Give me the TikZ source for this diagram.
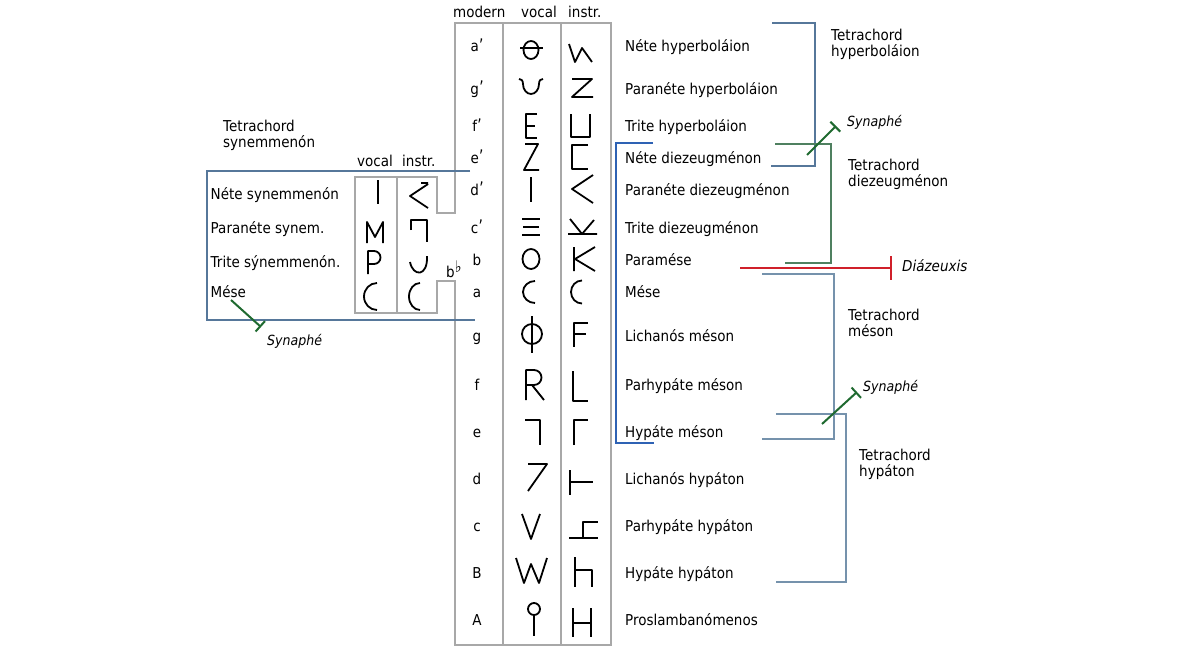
\documentclass[tikz,border=0pt]{standalone}
\usepackage{fontspec}
\usepackage{graphicx}
\setmainfont{DejaVu Sans}[FakeStretch=0.9]
\usetikzlibrary{arrows.meta}
\definecolor{boxgray}{HTML}{A8A8A8}
\definecolor{slate}{HTML}{56779A}
\definecolor{slatelt}{HTML}{7592AC}
\definecolor{grgray}{HTML}{4F8060}
\definecolor{bblue}{HTML}{2E62B4}
\definecolor{dgreen}{HTML}{1F6A30}
\definecolor{dred}{HTML}{D0202A}
\newcommand{\pr}{\kern0.3pt\raisebox{-0.5pt}{\scalebox{1}[1.25]{’}}}
\tikzset{
  lbl/.style={anchor=base west, font=\fontsize{15}{16}\selectfont, inner sep=0pt},
  mod/.style={anchor=base, font=\fontsize{15}{16}\selectfont, inner sep=0pt},
  itl/.style={anchor=base west, font=\fontsize{14}{16}\selectfont\itshape, inner sep=0pt},
  itlb/.style={anchor=base west, font=\fontsize{15}{16}\selectfont\itshape, inner sep=0pt},
  sym/.style={line width=1.8pt, line join=round, black},
  frame/.style={draw=boxgray, line width=1.5pt},
  brk/.style={line width=1.4pt},
  synline/.style={draw=dgreen, line width=2pt, -{Bar[width=14pt]}},
}
\begin{document}
\begin{tikzpicture}[x=1pt,y=-1pt]
\useasboundingbox (0,0) rectangle (1200,664);
\fill[white] (0,0) rectangle (1200,664);

% ---------- frames ----------
\draw[frame] (455,213) -- (455,23) -- (611,23) -- (611,645) -- (455,645) -- (455,281)
  -- (437,281) -- (437,313) -- (355,313) -- (355,177) -- (437,177) -- (437,213) -- cycle;
\draw[frame] (503,23) -- (503,645);
\draw[frame] (561,23) -- (561,645);
\draw[frame] (397,177) -- (397,313);

% blue-gray box of the synemmenon tetrachord
\draw[brk, slate] (470,171) -- (207,171) -- (207,320) -- (475,320);

% ---------- headers ----------
\node[lbl] (hmod) at (453,17.5) {modern};
\node[lbl] (hvoc) at (521,17.5) {vocal};
\node[lbl] (hins) at (568,17.5) {instr.};
\node[lbl] (hvoc2) at (357,166) {vocal};
\node[lbl] (hins2) at (402,166) {instr.};

% ---------- modern names ----------
\node[mod] (m1) at (477,51.7) {a\pr};
\node[mod] (m2) at (477,94) {g\pr};
\node[mod] (m3) at (477,131.7) {f\pr};
\node[mod] (m4) at (477,163) {e\pr};
\node[mod] (m5) at (477,195) {d\pr};
\node[mod] (m6) at (477,233) {c\pr};
\node[mod] (m7) at (477,265) {b};
\node[mod] (m8) at (477,297.7) {a};
\node[mod] (m9) at (477,341.7) {g};
\node[mod] (m10) at (477,390.7) {f};
\node[mod] (m11) at (477,437.7) {e};
\node[mod] (m12) at (477,484) {d};
\node[mod] (m13) at (477,531.7) {c};
\node[mod] (m14) at (477,578) {B};
\node[mod] (m15) at (477,625) {A};
\node[lbl] (bflat) at (446,277.5) {b\raisebox{5pt}{\fontsize{16}{16}\selectfont ♭}};

% ---------- right labels ----------
\node[lbl] (r1) at (625,51.7) {Néte hyperboláion};
\node[lbl] (r2) at (625,94) {Paranéte hyperboláion};
\node[lbl] (r3) at (625,131.7) {Trite hyperboláion};
\node[lbl] (r4) at (625,163) {Néte diezeugménon};
\node[lbl] (r5) at (625,195) {Paranéte diezeugménon};
\node[lbl] (r6) at (625,233) {Trite diezeugménon};
\node[lbl] (r7) at (625,265) {Paramése};
\node[lbl] (r8) at (625,297.7) {Mése};
\node[lbl] (r9) at (625,341.7) {Lichanós méson};
\node[lbl] (r10) at (625,390.7) {Parhypáte méson};
\node[lbl] (r11) at (625,437.7) {Hypáte méson};
\node[lbl] (r12) at (625,484) {Lichanós hypáton};
\node[lbl] (r13) at (625,531.7) {Parhypáte hypáton};
\node[lbl] (r14) at (625,578) {Hypáte hypáton};
\node[lbl] (r15) at (625,625) {Proslambanómenos};

% ---------- left labels ----------
\node[lbl] (l1) at (210.5,199.3) {Néte synemmenón};
\node[lbl] (l2) at (210.5,233.3) {Paranéte synem.};
\node[lbl] (l3) at (210.5,267.3) {Trite sýnemmenón.};
\node[lbl] (l4) at (210.5,297.7) {Mése};
\node[lbl] (ts1) at (223,131.7) {Tetrachord};
\node[lbl] (ts2) at (223,147.7) {synemmenón};

% ---------- tetrachord labels ----------
\node[lbl] (th1) at (831,40.7) {Tetrachord};
\node[lbl] (th2) at (831,56.7) {hyperboláion};
\node[lbl] (td1) at (848,170) {Tetrachord};
\node[lbl] (td2) at (848,186) {diezeugménon};
\node[lbl] (tm1) at (848,320) {Tetrachord};
\node[lbl] (tm2) at (848,336) {méson};
\node[lbl] (tp1) at (859,460) {Tetrachord};
\node[lbl] (tp2) at (859,476) {hypáton};
\node[itl] (syn1) at (847,126) {Synaphé};
\node[itlb] (dia) at (902,271.7) {Diázeuxis};
\node[itl] (syn2) at (863,391.7) {Synaphé};
\node[itl] (syn3) at (267,345) {Synaphé};

% ---------- brackets ----------
\draw[brk, slate] (772,23) -- (815,23) -- (815,166) -- (771,166);
\draw[brk, grgray] (775,144) -- (831,144) -- (831,263) -- (785,263);
\draw[brk, slatelt] (762,274) -- (834,274) -- (834,439) -- (762,439);
\draw[brk, slatelt] (776,414) -- (846,414) -- (846,582) -- (776,582);
\draw[line width=1.6pt, bblue] (653,143) -- (616,143) -- (616,443) -- (654,443);

% synaphe / diazeuxis marks
\coordinate (sa) at (807,155); \coordinate (sb) at (836,126);
\draw[synline] (sa) -- (sb);
\coordinate (sc) at (822,424); \coordinate (sd) at (857,392);
\draw[synline] (sc) -- (sd);
\coordinate (se) at (231,300); \coordinate (sf) at (261,327);
\draw[synline] (se) -- (sf);
\coordinate (da) at (740,268); \coordinate (db) at (892,268);
\draw[draw=dred, line width=2.2pt, -{Bar[width=24pt]}] (da) -- (db);

% ---------- vocal signs (main) ----------
\draw[sym] (531,50) ellipse [x radius=7.5, y radius=9];
\draw[sym] (520,48) -- (543,48);
\draw[sym] (519,79) .. controls (521,79) and (523,80) .. (523,84) arc[start angle=180, end angle=0, x radius=8, y radius=10] .. controls (539,80) and (541,79) .. (543,79);
\draw[sym] (537,114) -- (526,114) -- (526,138) -- (537,138) (526,126) -- (535,126);
\draw[sym] (525,144) -- (538,144) -- (524,170) -- (539,170);
\draw[sym] (531,177) -- (531,202);
\draw[sym] (522,219) -- (540,219) (523,227) -- (539,227) (522,235) -- (540,235);
\draw[sym] (531,259) ellipse [x radius=8.5, y radius=10];
\draw[sym] (535,281) arc[start angle=-90, end angle=-270, x radius=12, y radius=11];
\draw[sym] (532,334) ellipse [x radius=10, y radius=10];
\draw[sym] (532,316) -- (532,353);
\draw[sym] (526,400) -- (526,370) -- (534,370) arc[start angle=-90, end angle=90, radius=7.5] -- (526,385);
\draw[sym] (532,385) -- (544,400);
\draw[sym] (525,420) -- (540,420) -- (540,445);
\draw[sym] (528,464) -- (547,464) -- (528,491);
\draw[sym] (522,514) -- (531,539) -- (540,514);
\draw[sym] (516,558) -- (524,583) -- (531,564) -- (539,583) -- (547,558);
\draw[sym] (534,609) circle[radius=6];
\draw[sym] (534,615) -- (534,636);

% ---------- instrumental signs (main) ----------
\draw[sym] (569,44) -- (575,62) -- (582,48) -- (592,62);
\draw[sym] (572,79) -- (592,79) -- (572,97) -- (593,97);
\draw[sym] (571,114) -- (571,137) -- (590,137) -- (590,114);
\draw[sym] (588,145) -- (572,145) -- (572,169) -- (588,169);
\draw[sym] (593,175) -- (572,189) -- (593,203);
\draw[sym] (568,234) -- (597,234) (570,219) -- (582,234) -- (594,220);
\draw[sym] (574,247) -- (574,271) (595,247) -- (575,259) -- (595,271);
\draw[sym] (582,280.5) arc[start angle=-90, end angle=-270, x radius=11, y radius=11.5];
\draw[sym] (588,323) -- (574,323) -- (574,347) (574,334) -- (586,334);
\draw[sym] (573,371) -- (573,401) -- (588,401);
\draw[sym] (574,445) -- (574,420) -- (588,420);
\draw[sym] (570,470) -- (570,495) (570,482) -- (593,482);
\draw[sym] (569,538) -- (598,538) (583,538) -- (583,522) -- (598,522);
\draw[sym] (575,557) -- (575,587) (575,570) -- (592,570) -- (592,587);
\draw[sym] (573,608) -- (573,637) (591,608) -- (591,637) (573,623) -- (591,623);

% ---------- synemmenon signs ----------
\draw[sym] (378,180) -- (378,204);
\draw[sym] (421,183) -- (428,183) (428,184) -- (410,196) -- (428,208);
\draw[sym] (367,243) -- (367,222) -- (375,237) -- (383,222) -- (383,243);
\draw[sym] (411,230) -- (411,220) -- (427,220) -- (427,242);
\draw[sym] (368,274) -- (368,251) -- (374,251) arc[start angle=-90, end angle=90, radius=6.5] -- (368,264);
\draw[sym] (410,262) .. controls (413,277) and (428,277) .. (427,256);
\draw[sym] (377,283) arc[start angle=-90, end angle=-270, x radius=13, y radius=13.5];
\draw[sym] (420,283) arc[start angle=-90, end angle=-270, x radius=11, y radius=13.5];
\end{tikzpicture}
\end{document}
